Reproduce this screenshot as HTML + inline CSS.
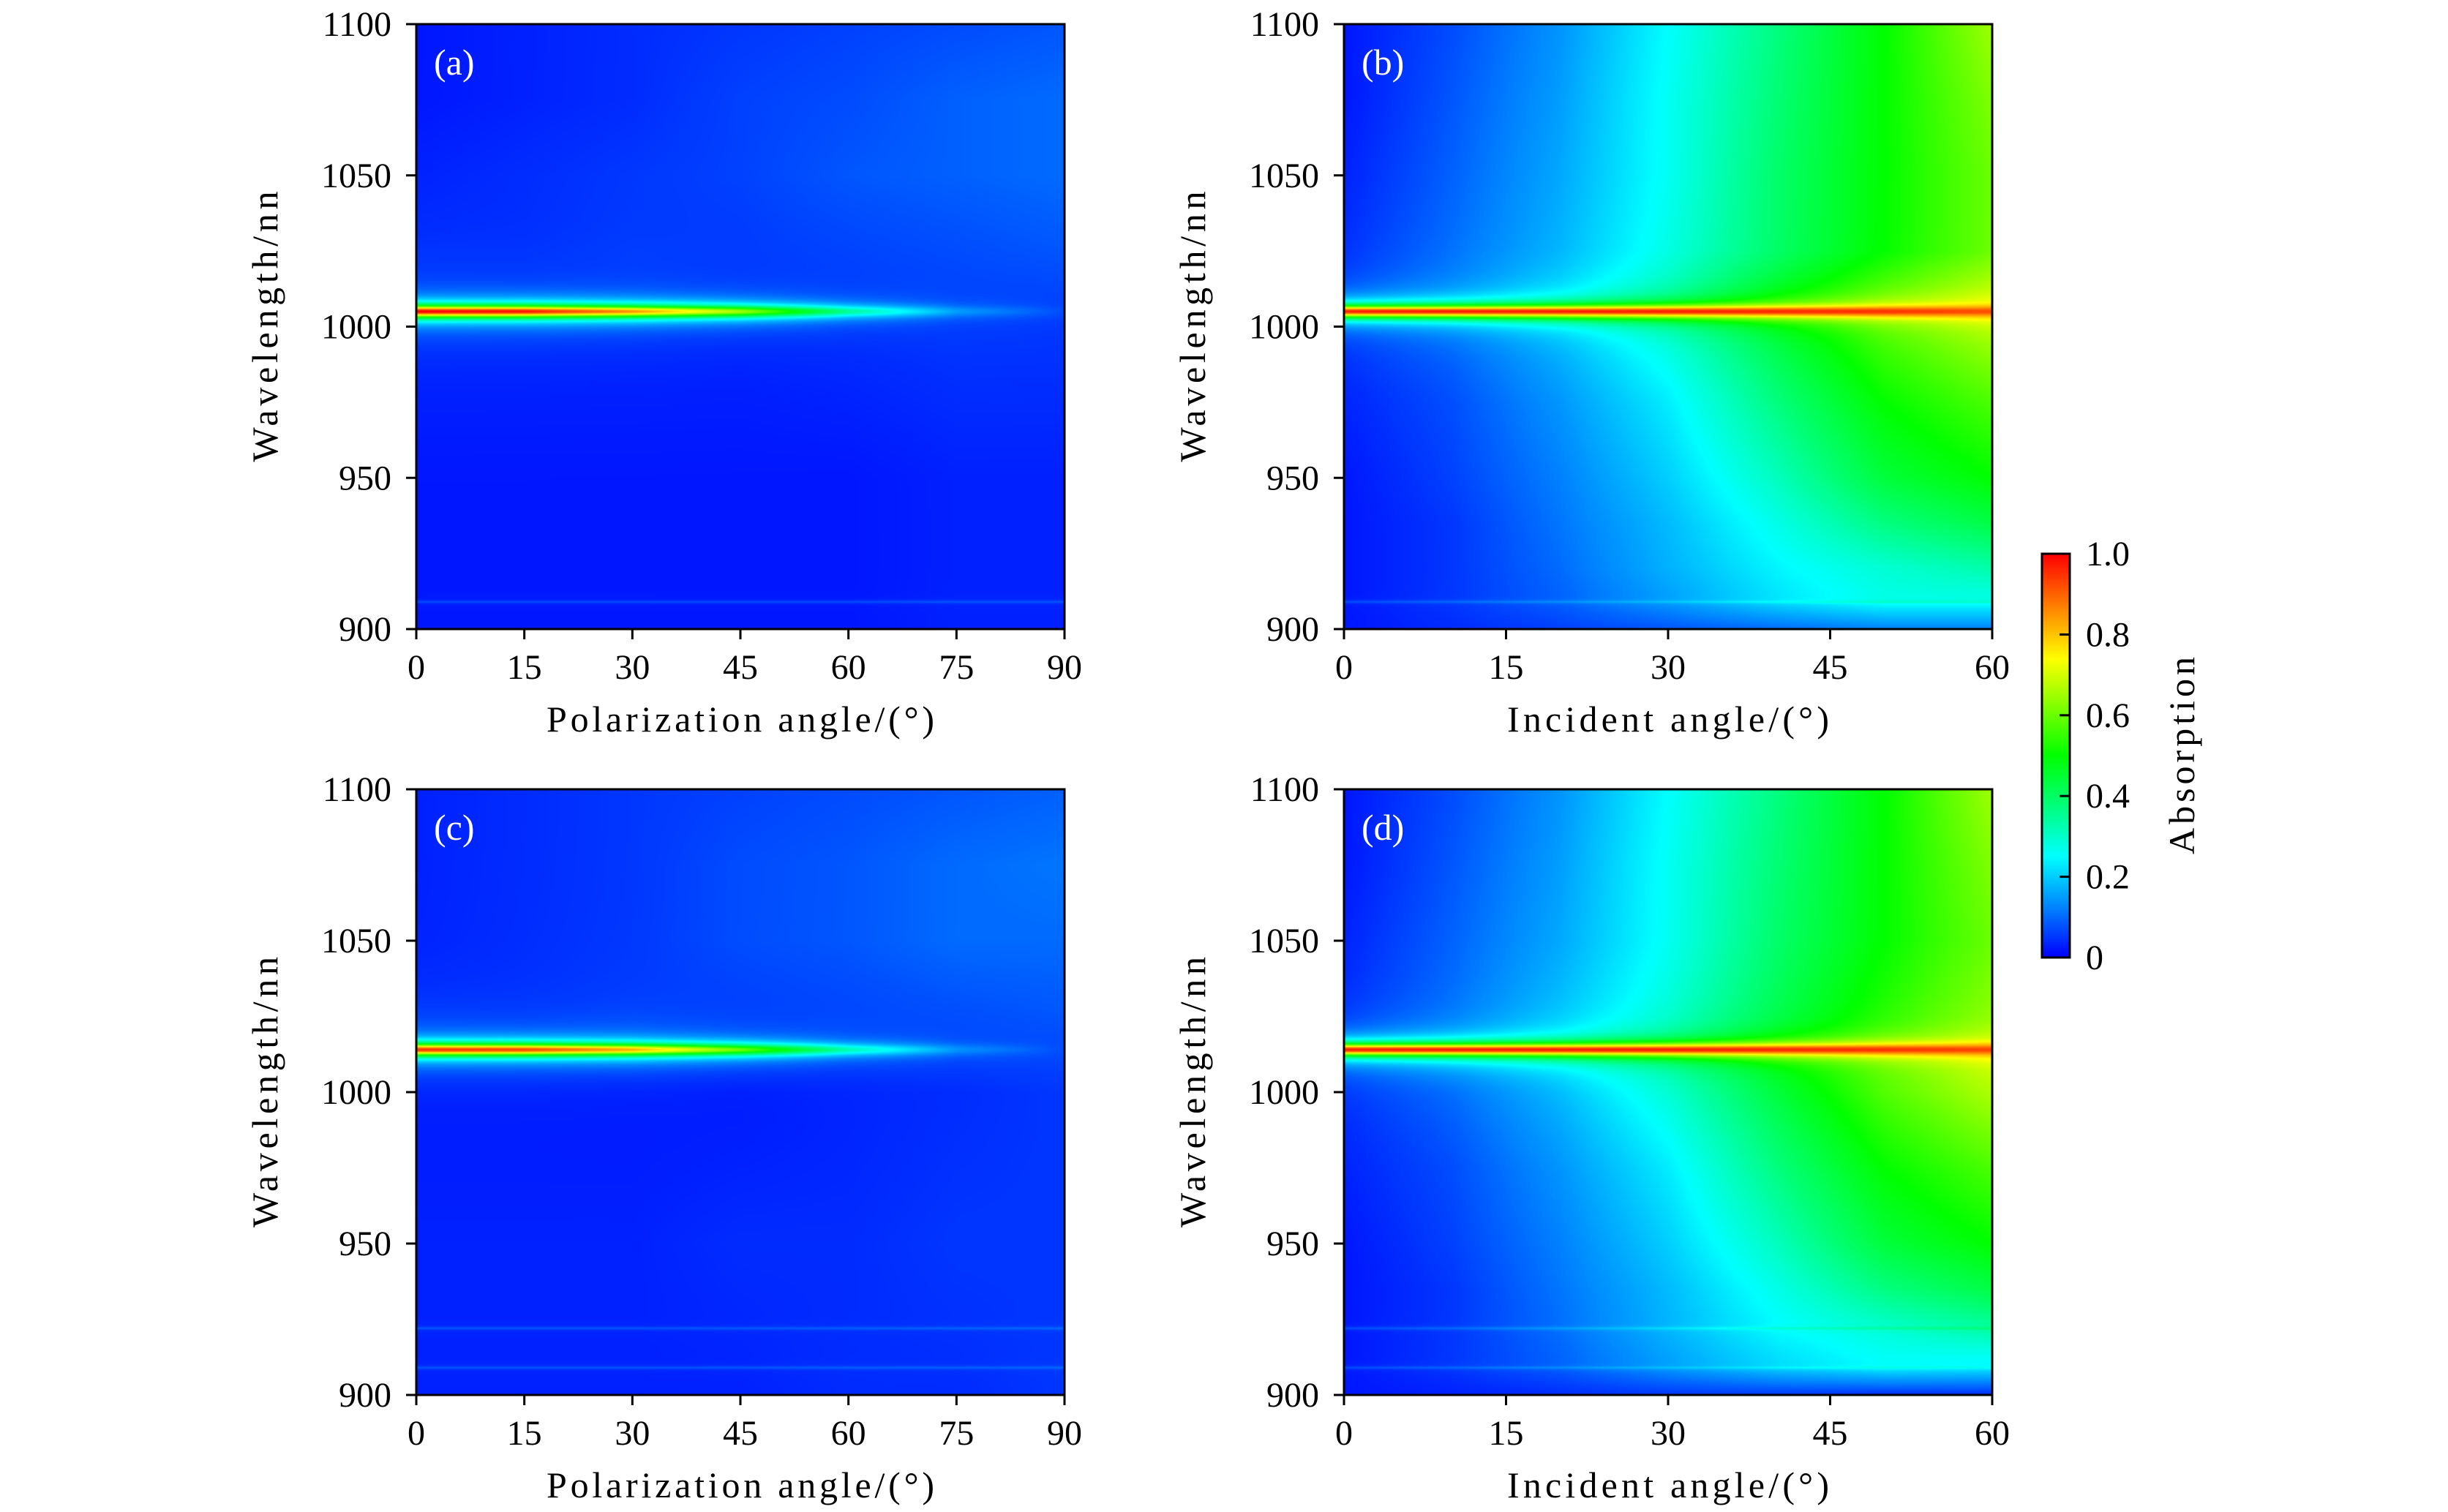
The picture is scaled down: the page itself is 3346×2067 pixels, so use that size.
<!DOCTYPE html>
<html><head><meta charset="utf-8">
<style>
html,body{margin:0;padding:0;background:#fff;}
#root{position:relative;width:3346px;height:2067px;overflow:hidden;font-family:"Liberation Serif",serif;}
canvas{position:absolute;}
svg{position:absolute;left:0;top:0;}
</style></head>
<body>
<div id="root">
<canvas id="ca" width="886" height="827" style="left:569px;top:33px"></canvas>
<canvas id="cb" width="886" height="827" style="left:1837px;top:33px"></canvas>
<canvas id="cc" width="886" height="828" style="left:569px;top:1079px"></canvas>
<canvas id="cd" width="886" height="828" style="left:1837px;top:1079px"></canvas>
<canvas id="cbar" width="38" height="552" style="left:2791px;top:757px"></canvas>
<svg id="ov" width="3346" height="2067"></svg>
</div>
<script>
// ---------- data ----------
const wlTicks = [900, 950, 1000, 1050, 1100];
const polTicks = [0, 15, 30, 45, 60, 75, 90];
const incTicks = [0, 15, 30, 45, 60];
const cbarTicks = [0, 0.2, 0.4, 0.6, 0.8, 1.0];
const cbarTickLabels = ["0", "0.2", "0.4", "0.6", "0.8", "1.0"];

// polarization panels background grid
const polAngles = [0, 15, 30, 45, 60, 75, 90];
const polWl = [900, 950, 1000, 1025, 1050, 1075, 1100];
const polBgA = [
  [0.02,0.02,0.02,0.02,0.02,0.03,0.03],
  [0.02,0.02,0.02,0.02,0.02,0.03,0.03],
  [0.03,0.03,0.03,0.03,0.04,0.05,0.05],
  [0.04,0.04,0.05,0.05,0.06,0.07,0.08],
  [0.03,0.04,0.05,0.06,0.08,0.09,0.10],
  [0.02,0.03,0.04,0.06,0.07,0.09,0.10],
  [0.02,0.03,0.04,0.05,0.06,0.07,0.08]
];
const polBgC = [
  [0.03,0.03,0.03,0.03,0.04,0.04,0.05],
  [0.03,0.03,0.03,0.04,0.04,0.05,0.05],
  [0.02,0.02,0.02,0.02,0.03,0.04,0.05],
  [0.04,0.04,0.05,0.05,0.06,0.07,0.08],
  [0.03,0.04,0.05,0.07,0.08,0.10,0.10],
  [0.03,0.04,0.05,0.07,0.08,0.10,0.11],
  [0.03,0.04,0.05,0.06,0.07,0.08,0.09]
];
const peakA = [1.0, 0.98, 0.85, 0.65, 0.35, 0.15, 0.07];
const peakC = [0.95, 0.93, 0.82, 0.60, 0.32, 0.14, 0.07];

// incident panels background grid
const incAngles = [0, 10, 20, 30, 40, 50, 60];
const incWl = [900, 910, 920, 935, 950, 975, 1000, 1010, 1025, 1050, 1075, 1100];
const incBgB = [
  [0.02,0.04,0.06,0.08,0.10,0.12,0.12],
  [0.02,0.05,0.09,0.15,0.22,0.27,0.27],
  [0.02,0.05,0.10,0.17,0.24,0.29,0.33],
  [0.02,0.05,0.11,0.18,0.27,0.37,0.43],
  [0.02,0.06,0.12,0.20,0.31,0.44,0.50],
  [0.03,0.07,0.14,0.23,0.37,0.50,0.57],
  [0.04,0.09,0.17,0.28,0.43,0.57,0.66],
  [0.05,0.11,0.19,0.30,0.45,0.58,0.68],
  [0.04,0.10,0.17,0.27,0.39,0.50,0.60],
  [0.03,0.09,0.16,0.26,0.39,0.50,0.60],
  [0.02,0.08,0.15,0.26,0.38,0.50,0.62],
  [0.02,0.07,0.14,0.25,0.37,0.50,0.65]
];
const incBgD = [
  [0.02,0.03,0.04,0.05,0.05,0.04,0.04],
  [0.02,0.05,0.09,0.15,0.21,0.25,0.24],
  [0.02,0.05,0.10,0.17,0.24,0.28,0.32],
  [0.02,0.05,0.11,0.18,0.27,0.37,0.43],
  [0.02,0.06,0.12,0.20,0.31,0.44,0.50],
  [0.03,0.07,0.14,0.23,0.37,0.50,0.57],
  [0.04,0.09,0.17,0.28,0.43,0.57,0.66],
  [0.05,0.11,0.19,0.30,0.45,0.58,0.68],
  [0.04,0.10,0.18,0.28,0.41,0.53,0.63],
  [0.03,0.09,0.16,0.26,0.39,0.50,0.60],
  [0.02,0.08,0.15,0.26,0.38,0.50,0.62],
  [0.02,0.07,0.14,0.25,0.37,0.50,0.65]
];
const peakB = [0.97, 0.97, 0.97, 0.97, 0.96, 0.95, 0.92];
const peakD = [0.97, 0.97, 0.97, 0.97, 0.96, 0.95, 0.93];

const resonanceWl = {a:1005, b:1005, c:1014, d:1014};
const faintLinesAB = [909];
const faintLinesCD = [909, 922];

// jet-like colormap stops
const cmapPos = [0, 0.12, 0.25, 0.37, 0.5, 0.62, 0.74, 0.87, 1.0];
const cmapR = [0, 0, 0, 0, 0, 128, 255, 255, 255];
const cmapG = [0, 128, 255, 255, 255, 255, 255, 128, 0];
const cmapB = [255, 255, 255, 128, 0, 0, 0, 0, 0];

// ---------- helpers ----------
function cmap(v){
  v = Math.max(0, Math.min(1, v));
  let i = 0;
  while (i < cmapPos.length - 2 && v > cmapPos[i+1]) i++;
  const t = (v - cmapPos[i]) / (cmapPos[i+1] - cmapPos[i]);
  return [cmapR[i] + (cmapR[i+1]-cmapR[i])*t, cmapG[i] + (cmapG[i+1]-cmapG[i])*t, cmapB[i] + (cmapB[i+1]-cmapB[i])*t];
}
function interp1(xs, ys, x){
  if (x <= xs[0]) return ys[0];
  for (let i = 0; i < xs.length-1; i++){
    if (x <= xs[i+1]){ const t=(x-xs[i])/(xs[i+1]-xs[i]); return ys[i]+(ys[i+1]-ys[i])*t; }
  }
  return ys[ys.length-1];
}
function interp2(xs, ys, grid, x, y){
  let j = 0; while (j < ys.length-2 && y > ys[j+1]) j++;
  const ty = Math.max(0, Math.min(1, (y-ys[j])/(ys[j+1]-ys[j])));
  const a = interp1(xs, grid[j], x), b = interp1(xs, grid[j+1], x);
  return a + (b-a)*ty;
}
function drawHeat(id, angles, xmax, wls, bg, peaks, res, lines){
  const cv = document.getElementById(id), ctx = cv.getContext('2d');
  const W = cv.width, H = cv.height;
  const img = ctx.createImageData(W, H);
  const hw = 1.9;
  for (let py = 0; py < H; py++){
    const wl = 1100 - (py + 0.5) / H * 200;
    const L = 1 / (1 + Math.pow((wl - res)/hw, 2));
    let lineAdd = 0;
    for (const lw of lines){ lineAdd += 0.05 / (1 + Math.pow((wl - lw)/0.4, 2)); }
    for (let px = 0; px < W; px++){
      const ang = (px + 0.5) / W * xmax;
      const b = interp2(angles, wls, bg, ang, wl);
      const pk = interp1(angles, peaks, ang);
      const v = b + Math.max(0, pk - b) * L + lineAdd;
      const c = cmap(v);
      const k = (py*W + px)*4;
      img.data[k]=c[0]; img.data[k+1]=c[1]; img.data[k+2]=c[2]; img.data[k+3]=255;
    }
  }
  ctx.putImageData(img, 0, 0);
}
drawHeat('ca', polAngles, 90, polWl, polBgA, peakA, resonanceWl.a, faintLinesAB);
drawHeat('cb', incAngles, 60, incWl, incBgB, peakB, resonanceWl.b, faintLinesAB);
drawHeat('cc', polAngles, 90, polWl, polBgC, peakC, resonanceWl.c, faintLinesCD);
drawHeat('cd', incAngles, 60, incWl, incBgD, peakD, resonanceWl.d, faintLinesCD);
(function(){
  const cv = document.getElementById('cbar'), ctx = cv.getContext('2d');
  for (let py = 0; py < cv.height; py++){
    const c = cmap(1 - py/(cv.height-1));
    ctx.fillStyle = 'rgb('+c.map(Math.round).join(',')+')';
    ctx.fillRect(0, py, cv.width, 1);
  }
})();

// ---------- axes ----------
const NS = 'http://www.w3.org/2000/svg';
const ov = document.getElementById('ov');
function el(tag, attrs, parent){
  const e = document.createElementNS(NS, tag);
  for (const k in attrs) e.setAttribute(k, attrs[k]);
  (parent||ov).appendChild(e); return e;
}
const panels = [
  {key:'a', x:569, y:33, w:886, h:827, xt:polTicks, xmax:90, xlabel:'Polarization angle/(°)'},
  {key:'b', x:1837, y:33, w:886, h:827, xt:incTicks, xmax:60, xlabel:'Incident angle/(°)'},
  {key:'c', x:569, y:1079, w:886, h:828, xt:polTicks, xmax:90, xlabel:'Polarization angle/(°)'},
  {key:'d', x:1837, y:1079, w:886, h:828, xt:incTicks, xmax:60, xlabel:'Incident angle/(°)'}
];
for (const p of panels){
  const g = el('g', {});
  
  
  const xs = v => p.x + v / p.xmax * p.w;
  const ys = v => p.y + p.h - (v - 900) / 200 * p.h;
  const fr = el('rect', {x:p.x, y:p.y, width:p.w, height:p.h, fill:'none', stroke:'#000', 'stroke-width':3}, g);
  
  
  for (const t of p.xt){
    const X = xs(t);
    const tk = el('line', {x1:X, y1:p.y+p.h, x2:X, y2:p.y+p.h+14, stroke:'#000', 'stroke-width':3}, g);
    
    
    const tl = el('text', {x:X, y:p.y+p.h+68, 'font-size':48, 'text-anchor':'middle', 'font-family':'Liberation Serif, serif'}, g);
    tl.textContent = t;
    
    
  }
  for (const t of wlTicks){
    const Y = ys(t);
    const tk = el('line', {x1:p.x-14, y1:Y, x2:p.x, y2:Y, stroke:'#000', 'stroke-width':3}, g);
    
    
    const tl = el('text', {x:p.x-34, y:Y+16, 'font-size':48, 'text-anchor':'end', 'font-family':'Liberation Serif, serif'}, g);
    tl.textContent = t;
    
    
  }
  const xl = el('text', {x:p.x+p.w/2, y:p.y+p.h+140, 'font-size':50, 'text-anchor':'middle', 'font-family':'Liberation Serif, serif', 'textLength':530}, g);
  xl.textContent = p.xlabel;
  if (p.xt === incTicks) xl.setAttribute('textLength', 440);
  
  
  const cx = p.x - 206 + 16, cy = p.y + p.h/2;
  const yl = el('text', {x:cx, y:cy, 'font-size':50, 'text-anchor':'middle', 'font-family':'Liberation Serif, serif', 'textLength':370, transform:'rotate(-90 '+cx+' '+cy+')'}, g);
  yl.textContent = 'Wavelength/nn';
  
  
  const pl = el('text', {x:p.x+24, y:p.y+69, 'font-size':50, fill:'#fff', 'font-family':'Liberation Serif, serif'}, g);
  pl.textContent = '(' + p.key + ')';
  
  
}
// colorbar axes
(function(){
  const x0 = 2791, x1 = 2829, y0 = 757, y1 = 1309;
  const g = el('g', {});
  
  
  const fr = el('rect', {x:x0, y:y0, width:x1-x0, height:y1-y0, fill:'none', stroke:'#000', 'stroke-width':3}, g);
  
  
  cbarTicks.forEach((t, i) => {
    const Y = y1 - t * (y1 - y0);
    const tk = el('line', {x1:x1-14, y1:Y, x2:x1, y2:Y, stroke:'#000', 'stroke-width':3}, g);
    
    
    const tl = el('text', {x:2851, y:Y+16, 'font-size':48, 'font-family':'Liberation Serif, serif'}, g);
    tl.textContent = cbarTickLabels[i];
    
    
  });
  const cx = 2999, cy = (y0 + y1) / 2;
  const lab = el('text', {x:cx, y:cy, 'font-size':50, 'text-anchor':'middle', 'font-family':'Liberation Serif, serif', 'textLength':270, transform:'rotate(-90 '+cx+' '+cy+')'}, g);
  lab.textContent = 'Absorption';
  
  
})();
</script>
</body></html>
